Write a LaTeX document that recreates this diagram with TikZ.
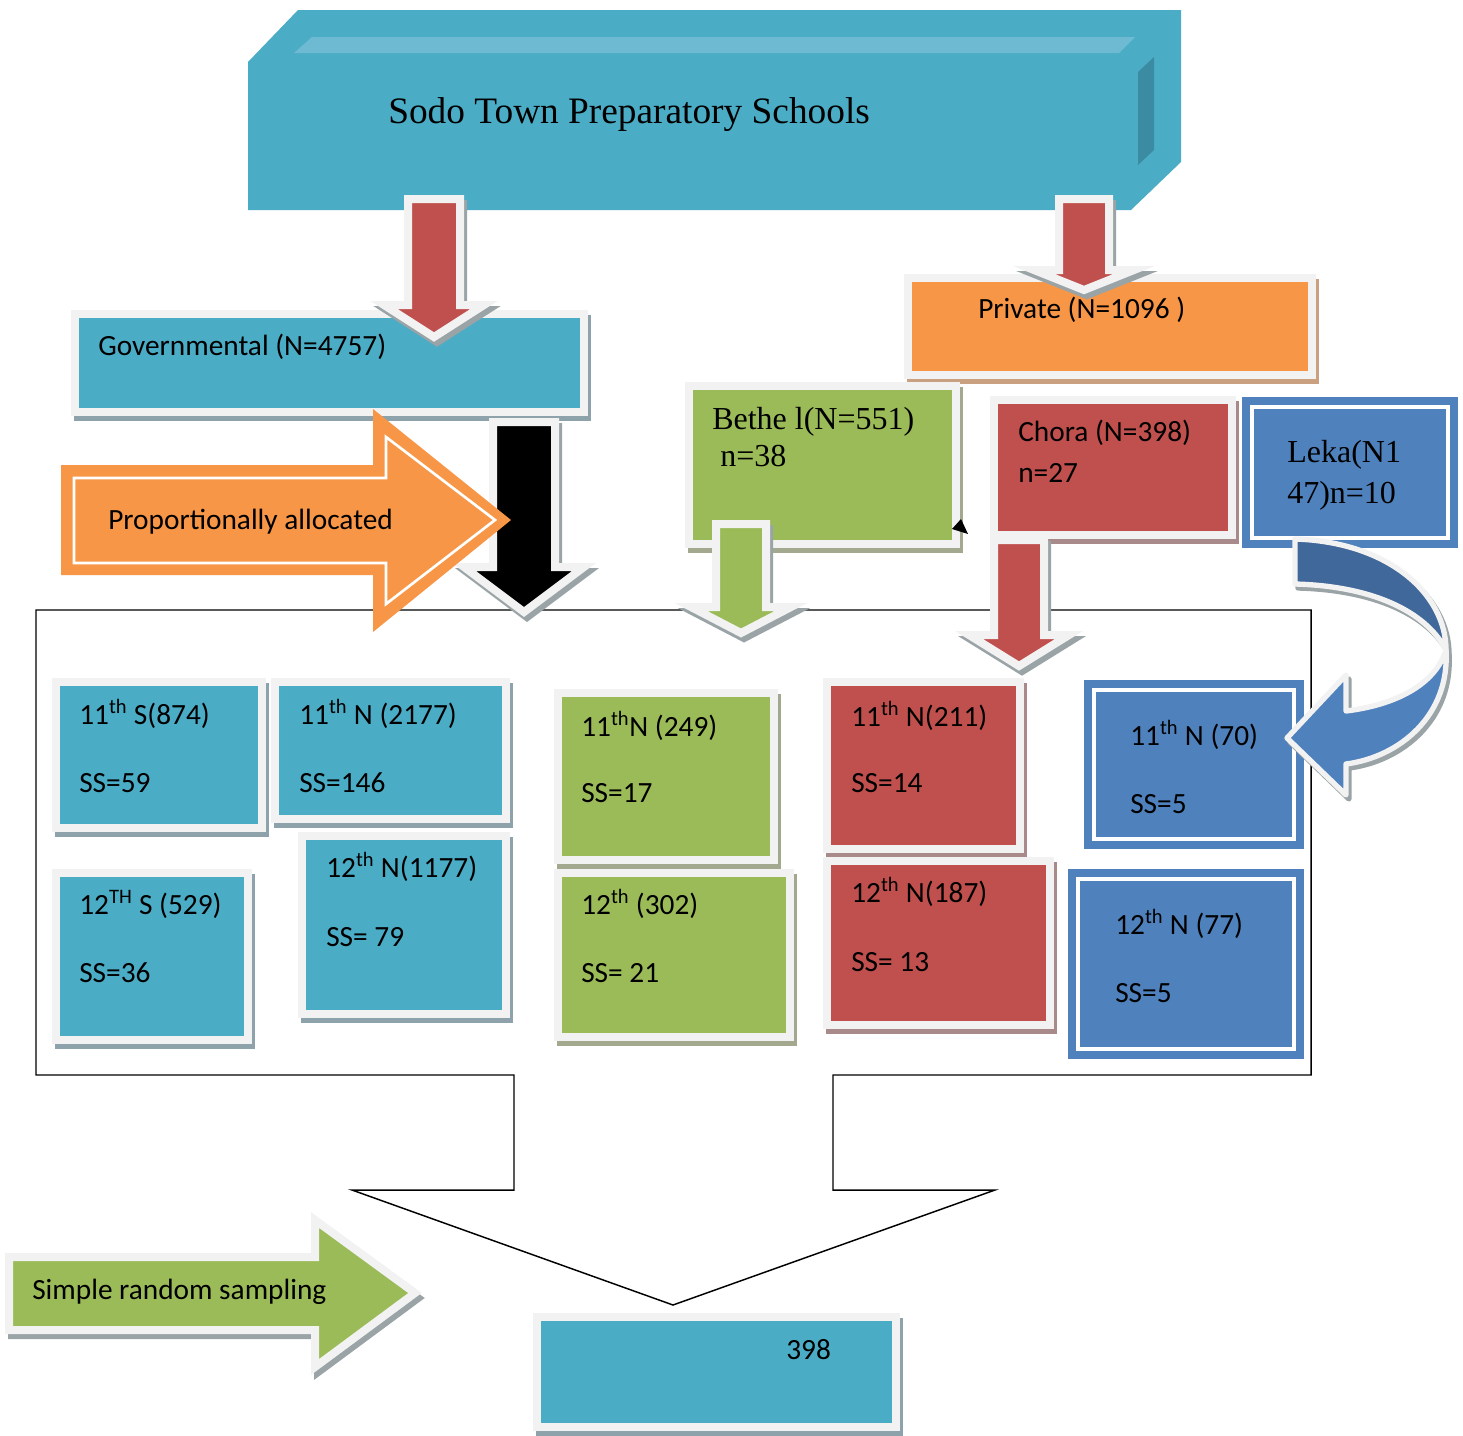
\documentclass[tikz,border=0pt]{standalone}
\usepackage{fontspec}
\setmainfont{Carlito}
\newfontfamily\tnr{Liberation Serif}
\usepackage{xcolor}
\definecolor{cb}{HTML}{4BACC6}
\definecolor{ch}{HTML}{6FBAD3}
\definecolor{cx}{HTML}{3B8CA3}
\definecolor{co}{HTML}{F79646}
\definecolor{cr}{HTML}{C0504D}
\definecolor{cg}{HTML}{9BBB59}
\definecolor{cd}{HTML}{4F81BD}
\definecolor{ce}{HTML}{41689A}
\definecolor{cl}{HTML}{F2F2F2}
\definecolor{cs}{HTML}{9AA3A6}
\definecolor{sb}{HTML}{8DA2AB}
\definecolor{so}{HTML}{C9A181}
\definecolor{sg}{HTML}{A3A98F}
\definecolor{sr}{HTML}{A98A8A}

\tikzset{
  txt/.style={anchor=base west,inner sep=0pt,font=\fontsize{22}{26}\selectfont},
  tms/.style={anchor=base west,inner sep=0pt,font=\tnr\fontsize{24}{28}\selectfont},
}

% panel: inner corners x1/y1/x2/y2, fill and shadow colour
\newcommand\panel[6]{%
  \fill[#6] (#1-5,#2-3) rectangle (#3+11,#4+13);
  \fill[cl] (#1-8,#2-8) rectangle (#3+8,#4+8);
  \fill[#5] (#1,#2) rectangle (#3,#4);
}
% blue box with a white inner line
\newcommand\bluebox[4]{%
  \fill[cd] (#1,#2) rectangle (#3,#4);
  \draw[white,line width=3pt] (#1+10,#2+10) rectangle (#3-10,#4-10);
}
% block arrow pointing down: x, top, head base, tip, shaft half, head half, colour
\newcommand\dnarrow[7]{%
  \foreach \sx/\sy/\dc/\fc in {3/5/cs/cs,0/0/cl/#7}
    \filldraw[draw=\dc,fill=\fc,line width=6pt,shift={(\sx,\sy)}]
      (#1-#5,#2) -- (#1+#5,#2) -- (#1+#5,#3) -- (#1+#6,#3) -- (#1,#4)
      -- (#1-#6,#3) -- (#1-#5,#3) -- cycle;
}

\begin{document}
\begin{tikzpicture}[x=0.75pt,y=-0.75pt]
  \useasboundingbox (0,0) rectangle (1463,1435);
  \fill[white] (0,0) rectangle (1463,1435);

  % Title bar (flat 3D block)
  \fill[cb] (248,62) -- (298,10) -- (1181,10) -- (1181,162) -- (1131,210) -- (248,210) -- cycle;
  \fill[ch] (294,53) -- (312,37) -- (1135,37) -- (1119,53) -- cycle;
  \fill[cx] (1138,72) -- (1154,57) -- (1154,150) -- (1138,165) -- cycle;

  % Frame round the strata, with the big arrow underneath
  \draw[line width=1.1pt] (36,610) -- (1311,610) -- (1311,1075) -- (833,1075) -- (833,1190)
    -- (995,1190) -- (673,1305) -- (352,1190) -- (514,1190) -- (514,1075) -- (36,1075) -- cycle;

  % Panels
  \foreach \xa/\ya/\xb/\yb/\c/\s in {79/318/580/408/cb/sb, 912/282/1308/371/co/so, 693/390/952/540/cg/sg,
      998/404/1228/531/cr/sr, 60/686/258/824/cb/sb, 279/686/502/815/cb/sb, 60/877/244/1036/cb/sb,
      306/840/502/1010/cb/sb, 562/697/770/856/cg/sg, 562/877/786/1033/cg/sg, 831/686/1016/845/cr/sr,
      831/865/1046/1021/cr/sr, 541/1321/892/1423/cb/sb}
    {\panel{\xa}{\ya}{\xb}{\yb}{\c}{\s}}
  \foreach \xa/\ya/\xb/\yb in {1242/397/1458/548, 1084/680/1304/849, 1068/869/1304/1059}
    {\bluebox{\xa}{\ya}{\xb}{\yb}}

  % Black arrow, then the orange one over it
  \dnarrow{524}{422}{567}{612}{31}{60}{black}
  \fill[co] (61,465) -- (373,465) -- (373,409) -- (511,520) -- (373,632) -- (373,575) -- (61,575) -- cycle;
  \draw[white,line width=2pt] (74,478) -- (386,478) -- (386,437) -- (495,520) -- (386,604) -- (386,563) -- (74,563) -- cycle;

  % Down arrows
  \dnarrow{434}{199}{305}{337}{26}{50}{cr}
  \dnarrow{1084}{199}{270}{290}{25}{50}{cr}
  \dnarrow{741}{524}{607}{633}{25}{50}{cg}
  \dnarrow{1019}{540}{635}{666}{25}{50}{cr}

  % Curved arrow from Leka
  \foreach \sx/\sy/\dc/\fa/\fb in {3/4/cs/cs/cs, 0/0/cl/ce/cd} {
    \filldraw[draw=\dc,fill=\fa,line width=4pt,line join=round,shift={(\sx,\sy)}]
      (1295,539) .. controls (1390,542) and (1446,595) .. (1446,650)
      .. controls (1425,610) and (1370,586) .. (1295,584) -- cycle;
    \filldraw[draw=\dc,fill=\fb,line width=4pt,line join=round,shift={(\sx,\sy)}]
      (1446,650) .. controls (1450,715) and (1400,757) .. (1346,764) -- (1346,795) -- (1287,738)
      -- (1346,675) -- (1346,711) .. controls (1395,705) and (1435,685) .. (1446,650) -- cycle;
  }

  % Simple random sampling arrow
  \foreach \sx/\sy/\dc/\fc in {3/5/cs/cs, 0/0/cl/cg}
    \filldraw[draw=\dc,fill=\fc,line width=6pt,shift={(\sx,\sy)}]
      (9,1257) -- (315,1257) -- (315,1220) -- (415,1293) -- (315,1367) -- (315,1330) -- (9,1330) -- cycle;

  % stray arrow tip by Bethel
  \fill[black] (961,519) -- (952,529) -- (968,534) -- cycle;

  % Labels
  \node[tms,font=\tnr\fontsize{28}{32}\selectfont] (title) at (388,123) {Sodo Town Preparatory Schools};
  \node[txt] (gov) at (98,355) {Governmental (N=4757)};
  \node[txt] (priv) at (978,318) {Private (N=1096 )};
  \node[txt] (prop) at (108,529) {Proportionally allocated};
  \node[tms] (bethel) at (712,429) {Bethe l(N=551)};
  \node[tms] (betheln) at (720,466) {n=38};
  \node[txt] (chora) at (1018,441) {Chora (N=398)};
  \node[txt] (choran) at (1018,482) {n=27};
  \node[tms] (leka) at (1287,462) {Leka(N1};
  \node[tms] (lekan) at (1287,503) {47)n=10};

  \node[txt] (s11) at (79,724) {11\textsuperscript{th} S(874)};
  \node[txt] (s11ss) at (79,792) {SS=59};
  \node[txt] (n11) at (299,724) {11\textsuperscript{th} N (2177)};
  \node[txt] (n11ss) at (299,792) {SS=146};
  \node[txt] (s12) at (79,914) {12\textsuperscript{TH} S (529)};
  \node[txt] (s12ss) at (79,982) {SS=36};
  \node[txt] (n12) at (326,877) {12\textsuperscript{th} N(1177)};
  \node[txt] (n12ss) at (326,946) {SS= 79};
  \node[txt] (g11) at (581,736) {11\textsuperscript{th}N (249)};
  \node[txt] (g11ss) at (581,802) {SS=17};
  \node[txt] (g12) at (581,914) {12\textsuperscript{th} (302)};
  \node[txt] (g12ss) at (581,982) {SS= 21};
  \node[txt] (r11) at (851,726) {11\textsuperscript{th} N(211)};
  \node[txt] (r11ss) at (851,792) {SS=14};
  \node[txt] (r12) at (851,902) {12\textsuperscript{th} N(187)};
  \node[txt] (r12ss) at (851,971) {SS= 13};
  \node[txt] (b11) at (1130,745) {11\textsuperscript{th} N (70)};
  \node[txt] (b11ss) at (1130,813) {SS=5};
  \node[txt] (b12) at (1115,934) {12\textsuperscript{th} N (77)};
  \node[txt] (b12ss) at (1115,1002) {SS=5};

  \node[txt] (srs) at (32,1299) {Simple random sampling};
  \node[txt] (total) at (786,1359) {398};
\end{tikzpicture}
\end{document}
